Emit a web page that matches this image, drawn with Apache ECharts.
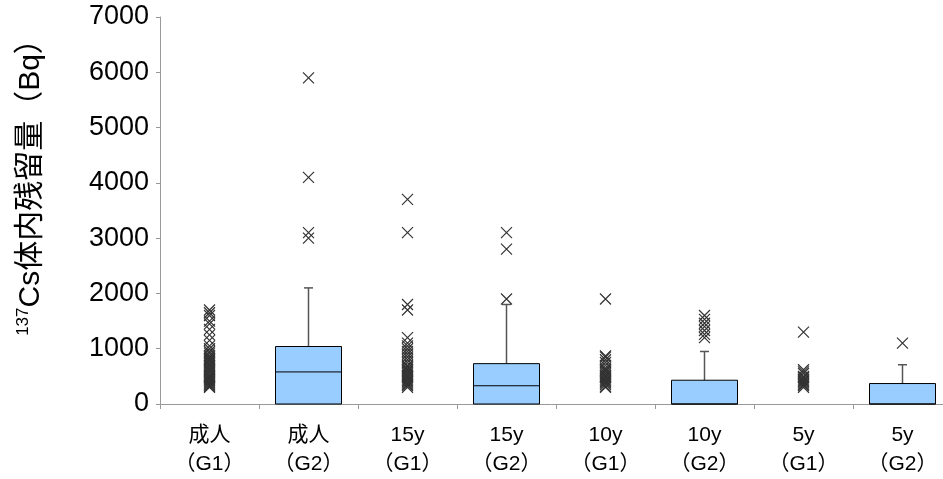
<!DOCTYPE html>
<html>
<head>
<meta charset="utf-8">
<script src="https://cdn.jsdelivr.net/npm/echarts@6/dist/echarts.min.js"></script>
<style>
  html, body { margin: 0; padding: 0; background: #fff; }
  #chart { width: 943px; height: 479px; }
</style>
</head>
<body>
<div id="chart"></div>
<script>
// Groups along the x axis
const categories = ['成人\n（G1）', '成人\n（G2）', '15y\n（G1）', '15y\n（G2）',
                    '10y\n（G1）', '10y\n（G2）', '5y\n（G1）', '5y\n（G2）'];

// Box statistics [min, Q1, median, Q3, max]; G1 groups have no box
const boxStats = [
  null,
  [0, 0, 580, 1040, 2100],
  null,
  [0, 0, 330, 730, 1800],
  null,
  [0, 0, 0, 430, 950],
  null,
  [0, 0, 0, 370, 710]
];

// Outliers per group (Bq)
const outAdultG1 = [1700, 1650, 1600, 1500, 1450, 1350, 1250, 1150, 1050, 1000, 950, 920, 880, 850,
                    820, 800, 780, 750, 720, 700, 680, 650, 620, 600, 580, 550, 520, 500, 480, 460,
                    440, 420, 400, 380, 360, 340, 320, 300];
const outAdultG2 = [5900, 4100, 3100, 3000];
const out15G1 = [3700, 3100, 1800, 1700, 1200, 1100, 1050, 1000, 950, 900, 850, 800, 750, 700, 680,
                 650, 620, 600, 580, 550, 520, 500, 480, 450, 420, 400, 380, 350, 330, 300];
const out15G2 = [3100, 2800, 1900];
const out10G1 = [1900, 870, 850, 800, 750, 700, 650, 620, 600, 580, 550, 520, 500, 480, 450, 420,
                 400, 380, 350, 320, 300];
const out10G2 = [1600, 1530, 1460, 1400, 1330, 1260, 1200];
const out5G1 = [1300, 620, 580, 550, 500, 480, 450, 420, 400, 380, 350, 330, 300];
const out5G2 = [1100];

const outlierGroups = [outAdultG1, outAdultG2, out15G1, out15G2, out10G1, out10G2, out5G1, out5G2];

// Y axis ticks
const yMin = 0, yMax = 7000, yStep = 1000;

const boxData = [];
boxStats.forEach((s, i) => { if (s) boxData.push([i].concat(s)); });

const outlierData = [];
outlierGroups.forEach((arr, i) => arr.forEach(v => outlierData.push([i, v])));

const FONT = '"Liberation Sans", Arial, "Noto Sans CJK JP", sans-serif';

function renderBox(params, api) {
  const x = api.value(0);
  const vMin = api.value(1), q1 = api.value(2), med = api.value(3), q3 = api.value(4), vMax = api.value(5);
  const halfW = api.size([1, 0])[0] * 2 / 3 / 2;
  const capHalf = 4.5;
  const pMin = api.coord([x, vMin]);
  const pQ1 = api.coord([x, q1]);
  const pMed = api.coord([x, med]);
  const pQ3 = api.coord([x, q3]);
  const pMax = api.coord([x, vMax]);
  const cx = pQ3[0];
  const whisker = { stroke: '#555', lineWidth: 1.5 };
  return {
    type: 'group',
    children: [
      { type: 'line', shape: { x1: cx, y1: pQ3[1], x2: cx, y2: pMax[1] }, style: whisker },
      { type: 'line', shape: { x1: cx - capHalf, y1: pMax[1], x2: cx + capHalf, y2: pMax[1] }, style: whisker },
      { type: 'line', shape: { x1: cx, y1: pMin[1], x2: cx, y2: pQ1[1] }, style: whisker },
      {
        type: 'rect',
        shape: { x: cx - halfW, y: pQ3[1], width: halfW * 2, height: pQ1[1] - pQ3[1] },
        style: { fill: '#99CCFF', stroke: '#000', lineWidth: 1 }
      },
      { type: 'line', shape: { x1: cx - halfW, y1: pMed[1], x2: cx + halfW, y2: pMed[1] },
        style: { stroke: '#000', lineWidth: 1 } }
    ]
  };
}

const chart = echarts.init(document.getElementById('chart'), null, { renderer: 'canvas' });

chart.setOption({
  backgroundColor: '#fff',
  animation: false,
  grid: { left: 160, right: -9, top: 17, bottom: 75, outerBoundsMode: 'none', containLabel: false },
  xAxis: {
    type: 'category',
    data: categories,
    boundaryGap: true,
    axisLine: { lineStyle: { color: '#999', width: 1 } },
    axisTick: { show: true, interval: 0, length: 5, lineStyle: { color: '#999' } },
    axisLabel: {
      interval: 0,
      margin: 17,
      color: '#000',
      fontSize: 21,
      lineHeight: 29,
      fontFamily: FONT
    },
    splitLine: { show: false }
  },
  yAxis: {
    type: 'value',
    min: yMin,
    max: yMax,
    interval: yStep,
    axisLine: { show: true, lineStyle: { color: '#999', width: 1 } },
    axisTick: { show: true, length: 4, lineStyle: { color: '#999' } },
    axisLabel: {
      color: '#000', fontSize: 27, margin: 11, fontFamily: FONT,
      formatter: v => String(v)
    },
    splitLine: { show: false }
  },
  graphic: [{
    type: 'text',
    x: 31,
    y: 180,
    rotation: Math.PI / 2,
    style: {
      text: '{s|137}{m|Cs体内残留量（Bq）}',
      align: 'center',
      verticalAlign: 'middle',
      rich: {
        s: { fontSize: 17, fontFamily: FONT, fill: '#000', verticalAlign: 'top', lineHeight: 32, padding: [0, 0, 11, 0] },
        m: { fontSize: 30, fontFamily: FONT, fill: '#000', lineHeight: 32 }
      }
    }
  }],
  series: [
    {
      type: 'custom',
      renderItem: renderBox,
      encode: { x: 0, y: [1, 2, 3, 4, 5] },
      data: boxData,
      z: 2
    },
    {
      type: 'scatter',
      data: outlierData,
      symbol: 'path://M0,0L10,10M10,0L0,10',
      symbolSize: 11,
      itemStyle: { color: 'none', borderColor: '#333', borderWidth: 1.2, opacity: 1 },
      z: 3
    }
  ]
});
</script>
</body>
</html>
